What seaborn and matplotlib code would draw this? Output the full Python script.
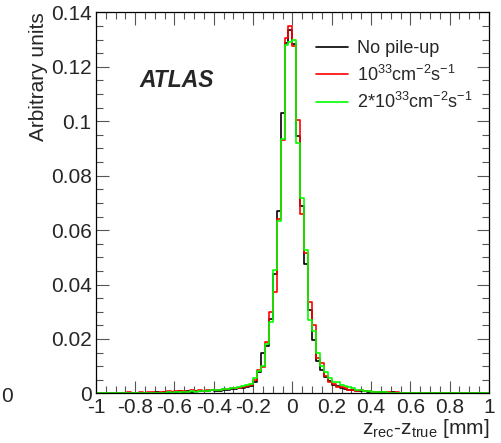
import numpy as np
import pandas as pd
import seaborn as sns
import matplotlib.pyplot as plt
from matplotlib.lines import Line2D
from matplotlib.ticker import MultipleLocator, FuncFormatter

# histogram binning: 100 bins of 0.02 mm between -1 and 1
bin_width = 0.02
bin_centers = np.linspace(-0.99, 0.99, 100)

# bin contents (arbitrary units)
no_pileup = [
    0, 0.0002, 0, 0.0002, 0, 0, 0.0002, 0.0003, 0, 0.0002,
    0.0002, 0, 0.0003, 0.0002, 0.0002, 0.0004, 0.0002, 0.0005, 0.0003, 0.0004,
    0.0005, 0.0007, 0.0004, 0.0008, 0.0006, 0.0008, 0.0007, 0.0010, 0.0009, 0.0011,
    0.0010, 0.0009, 0.0012, 0.0013, 0.0015, 0.0016, 0.0018, 0.0020, 0.0022, 0.0026,
    0.0042, 0.0078, 0.0147, 0.0175, 0.0275, 0.0440, 0.0672, 0.1032, 0.1288, 0.1335,
    0.1283, 0.0947, 0.0690, 0.0477, 0.0305, 0.0196, 0.0120, 0.0085, 0.0060, 0.0045,
    0.0032, 0.0026, 0.0021, 0.0017, 0.0014, 0.0012, 0.0010, 0.0009, 0.0008, 0.0006,
    0.0005, 0.0005, 0.0004, 0.0005, 0.0003, 0.0004, 0.0002, 0.0003, 0.0002, 0.0002,
    0.0002, 0.0001, 0, 0.0002, 0.0001, 0.0001, 0.0002, 0, 0.0002, 0.0001,
    0.0001, 0, 0.0001, 0.0002, 0, 0.0001, 0, 0.0001, 0, 0.0001,
]
lumi_1e33 = [
    0.0002, 0, 0.0003, 0, 0.0002, 0.0003, 0, 0.0002, 0.0004, 0,
    0.0003, 0.0005, 0.0002, 0.0004, 0.0006, 0.0003, 0.0005, 0.0004, 0.0007, 0.0005,
    0.0008, 0.0010, 0.0007, 0.0006, 0.0011, 0.0009, 0.0012, 0.0008, 0.0013, 0.0011,
    0.0014, 0.0012, 0.0016, 0.0015, 0.0019, 0.0021, 0.0020, 0.0024, 0.0027, 0.0030,
    0.0050, 0.0085, 0.0098, 0.0190, 0.0300, 0.0372, 0.0640, 0.0930, 0.1305, 0.1351,
    0.1277, 0.1005, 0.0660, 0.0515, 0.0337, 0.0250, 0.0130, 0.0110, 0.0065, 0.0040,
    0.0036, 0.0022, 0.0025, 0.0019, 0.0013, 0.0014, 0.0009, 0.0011, 0.0007, 0.0008,
    0.0004, 0.0006, 0.0003, 0.0005, 0.0004, 0.0002, 0.0004, 0.0003, 0.0001, 0.0003,
    0.0001, 0.0003, 0.0002, 0, 0.0003, 0.0002, 0.0001, 0.0003, 0.0001, 0,
    0.0002, 0.0001, 0, 0.0002, 0.0001, 0, 0.0002, 0, 0.0001, 0,
]
lumi_2e33 = [
    0, 0.0001, 0.0001, 0, 0.0002, 0.0001, 0.0001, 0, 0.0002, 0.0001,
    0.0001, 0.0002, 0.0001, 0.0003, 0.0002, 0.0002, 0.0003, 0.0003, 0.0004, 0.0003,
    0.0004, 0.0005, 0.0005, 0.0006, 0.0007, 0.0006, 0.0008, 0.0009, 0.0010, 0.0012,
    0.0013, 0.0014, 0.0016, 0.0017, 0.0019, 0.0021, 0.0023, 0.0027, 0.0030, 0.0033,
    0.0056, 0.0082, 0.0102, 0.0180, 0.0262, 0.0455, 0.0635, 0.0935, 0.1280, 0.1290,
    0.1300, 0.0920, 0.0718, 0.0527, 0.0270, 0.0230, 0.0150, 0.0100, 0.0078, 0.0055,
    0.0040, 0.0040, 0.0030, 0.0027, 0.0022, 0.0018, 0.0014, 0.0012, 0.0010, 0.0008,
    0.0006, 0.0005, 0.0005, 0.0004, 0.0003, 0.0003, 0.0002, 0.0002, 0.0002, 0.0001,
    0.0001, 0.0001, 0.0001, 0, 0.0001, 0.0001, 0, 0.0001, 0, 0.0001,
    0, 0, 0.0001, 0, 0, 0.0001, 0, 0, 0, 0,
]

series_labels = [
    'No pile-up',
    r'$\mathregular{10^{33}cm^{-2}s^{-1}}$',
    r'$\mathregular{2{*}10^{33}cm^{-2}s^{-1}}$',
]
series_colors = ['black', '#ff0000', '#00ff00']

sns.set_style('ticks')
plt.rcParams['font.family'] = ['Liberation Sans', 'DejaVu Sans']
plt.rcParams['mathtext.fontset'] = 'custom'
plt.rcParams['mathtext.rm'] = 'Liberation Sans'
plt.rcParams['axes.unicode_minus'] = False

fig = plt.figure(figsize=(5.02, 4.43), dpi=100)
ax = fig.add_axes([0.191, 0.112, 0.783, 0.860])

for values, color in zip([no_pileup, lumi_1e33, lumi_2e33], series_colors):
    df = pd.DataFrame({'z': bin_centers, 'w': values})
    sns.histplot(data=df, x='z', weights='w', binwidth=bin_width, binrange=(-1, 1),
                 element='step', fill=False, color=color, linewidth=1.2, ax=ax)

ax.set_xlim(-1, 1)
ax.set_ylim(0, 0.14)

# ROOT / ATLAS style axes
root_fmt = FuncFormatter(lambda v, p: '%g' % (round(v, 4) + 0.0))
ax.xaxis.set_major_locator(MultipleLocator(0.2))
ax.xaxis.set_minor_locator(MultipleLocator(0.05))
ax.yaxis.set_major_locator(MultipleLocator(0.02))
ax.yaxis.set_minor_locator(MultipleLocator(0.005))
ax.xaxis.set_major_formatter(root_fmt)
ax.yaxis.set_major_formatter(root_fmt)
ax.tick_params(which='both', direction='in', top=True, right=True,
               labelsize=15, color='#555555', width=0.8)
ax.tick_params(which='major', length=9, pad=3)
ax.tick_params(which='minor', length=5)
for sp in ax.spines.values():
    sp.set_linewidth(0.9)
    sp.set_color('black')

ax.set_xlabel(r'$\mathregular{z_{rec}}$-$\mathregular{z_{true}}$ [mm]',
              fontsize=15, loc='right', labelpad=0)
ax.set_ylabel('Arbitrary units', fontsize=15, loc='top', labelpad=2)

ax.text(0.112, 0.82, 'ATLAS', transform=ax.transAxes, fontsize=16.5,
        fontweight='bold', fontstyle='italic', va='center')

handles = [Line2D([], [], color=c, linewidth=1.2) for c in series_colors]
ax.legend(handles, series_labels, loc='upper left', bbox_to_anchor=(0.56, 0.927),
          frameon=False, fontsize=13, handlelength=1.75, handletextpad=0.5,
          labelspacing=0.4, borderaxespad=0, borderpad=0)

fig.text(0.003, 0.104, '0', fontsize=15, va='center')

fig.savefig('out.png', dpi=100)
